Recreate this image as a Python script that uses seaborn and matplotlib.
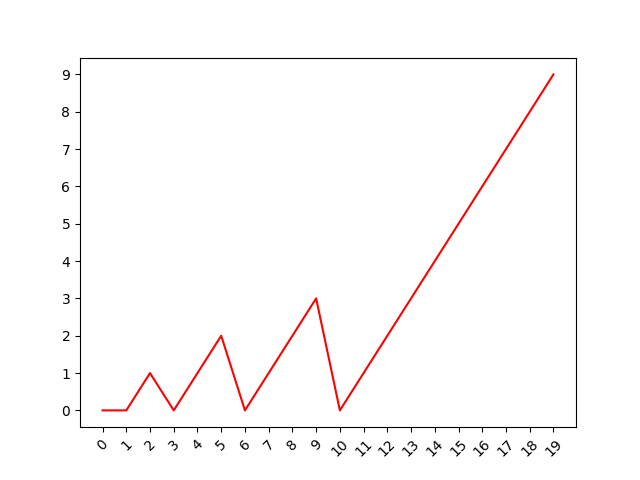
import matplotlib
matplotlib.use("Agg")
import matplotlib.pyplot as plt
import seaborn as sns
import pandas as pd

x_vals = list(range(20))
y_vals = [0, 0, 1, 0, 1, 2, 0, 1, 2, 3, 0, 1, 2, 3, 4, 5, 6, 7, 8, 9]
y_ticks = list(range(10))

df = pd.DataFrame({'x': x_vals, 'y': y_vals})

fig, ax = plt.subplots(figsize=(6.4, 4.8), dpi=100)
sns.lineplot(x='x', y='y', data=df, color='red', ax=ax)
ax.set_xticks(x_vals)
ax.set_xticklabels([str(v) for v in x_vals], rotation=45)
ax.set_yticks(y_ticks)
ax.set_xlabel('')
ax.set_ylabel('')
plt.savefig("out.png")
